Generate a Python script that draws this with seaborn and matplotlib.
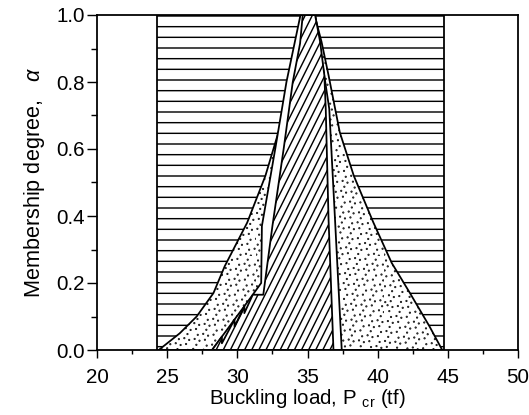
import numpy as np
import matplotlib
matplotlib.use("Agg")
import matplotlib.pyplot as plt
import matplotlib.hatch as mhatch
from matplotlib.path import Path
import seaborn as sns
from matplotlib.ticker import MultipleLocator

# Crisp interval of the buckling load (holds at every membership level)
crisp_lo, crisp_hi = 24.3, 44.7

# Outer fuzzy buckling load (stippled)
outer_alpha_l = [0.0, 0.05, 0.10, 0.17, 0.25, 0.38, 0.52, 0.66, 0.80, 1.0]
outer_x_l = [24.4, 25.9, 27.1, 28.3, 29.1, 30.7, 32.0, 33.0, 33.9, 34.7]
outer_alpha_r = [0.0, 0.07, 0.17, 0.26, 0.38, 0.52, 0.65, 0.82, 0.92, 1.0]
outer_x_r = [44.6, 43.7, 42.3, 41.0, 39.7, 38.3, 37.3, 36.5, 36.0, 35.5]

# Intermediate fuzzy buckling load (blank)
mid_alpha_l = [0.0, 0.165, 0.20, 0.37, 0.60, 0.80, 1.0]
mid_x_l = [28.2, 31.1, 31.7, 31.75, 32.7, 33.5, 34.5]
mid_alpha_r = [0.0, 0.39, 0.72, 1.0]
mid_x_r = [37.44, 36.96, 36.55, 35.55]

# Inner fuzzy buckling load (diagonal hatch), serrated lower tail
inner_alpha_l = [0.0, 0.04, 0.02, 0.091, 0.07, 0.131, 0.11, 0.165, 0.165,
                 0.37, 0.60, 0.80, 0.915, 1.0]
inner_x_l = [28.2, 28.9, 28.9, 29.8, 29.8, 30.5, 30.5, 31.1, 31.85,
             32.5, 33.3, 33.95, 34.47, 34.66]
inner_alpha_r = [0.0, 0.39, 0.72, 0.82, 0.92, 1.0]
inner_x_r = [36.85, 36.5, 36.3, 36.2, 35.9, 35.54]

x_ticks = [20, 25, 30, 35, 40, 45, 50]
y_ticks = [0.0, 0.2, 0.4, 0.6, 0.8, 1.0]


class SteepHatch(mhatch.HatchPatternBase):
    """'/' lines leaning at about 63 degrees instead of 45."""

    def __init__(self, hatch, density):
        n = int(hatch.count("/") * density)
        self.num_lines = n + (n % 2)
        self.num_vertices = 0 if n == 0 else (self.num_lines * 3 // 2 + 1) * 2

    def set_vertices_and_codes(self, vertices, codes):
        n = self.num_lines
        starts = np.arange(-n // 2, n + 1) / n
        vertices[0::2, 0] = starts
        vertices[0::2, 1] = 0.0
        vertices[1::2, 0] = starts + 0.5
        vertices[1::2, 1] = 1.0
        codes[0::2] = Path.MOVETO
        codes[1::2] = Path.LINETO


class Stipple(mhatch.HatchPatternBase):
    """'.' as an even but irregular spread of small dots."""

    radius = 0.0028

    def __init__(self, hatch, density):
        self.num_dots = int(hatch.count(".") * density * 26)
        circle = Path.unit_circle()
        self.shape_vertices = circle.vertices
        self.shape_codes = circle.codes
        self.num_vertices = self.num_dots * len(circle.vertices)

    def set_vertices_and_codes(self, vertices, codes):
        k = np.arange(self.num_dots)
        px = (0.5 + k * 0.7548776662466927) % 1.0
        py = (0.5 + k * 0.5698402909980532) % 1.0
        m = len(self.shape_vertices)
        for i in range(self.num_dots):
            vertices[i * m:(i + 1) * m] = (self.shape_vertices * self.radius
                                           + [px[i], py[i]])
            codes[i * m:(i + 1) * m] = self.shape_codes


mhatch._hatch_types = [
    Stipple if t is mhatch.SmallFilledCircles
    else SteepHatch if t is mhatch.NorthEastHatch
    else t
    for t in mhatch._hatch_types
]

DPI = 128
sns.set_style("ticks")
plt.rcParams["font.family"] = ["Liberation Sans", "DejaVu Sans"]
plt.rcParams["mathtext.fontset"] = "custom"
plt.rcParams["mathtext.rm"] = "Liberation Sans"
plt.rcParams["mathtext.it"] = "Liberation Sans:italic"
plt.rcParams["hatch.linewidth"] = 0.8
plt.rcParams["hatch.color"] = "black"

fig = plt.figure(figsize=(529 / DPI, 415 / DPI), dpi=DPI)
ax = fig.add_axes([97 / 529, 1 - 350 / 415, 421 / 529, 335 / 415])


def outline(x_l, a_l, x_r, a_r):
    xs = list(x_l) + list(reversed(x_r))
    ys = list(a_l) + list(reversed(a_r))
    return xs, ys


# crisp interval band
rx = [crisp_lo, crisp_hi, crisp_hi, crisp_lo]
ry = [0.0, 0.0, 1.0, 1.0]
ax.fill(rx, ry, facecolor="white", edgecolor="black", hatch="--",
        linewidth=1.0, zorder=1)

layers = [
    (outline(outer_x_l, outer_alpha_l, outer_x_r, outer_alpha_r), "..."),
    (outline(mid_x_l, mid_alpha_l, mid_x_r, mid_alpha_r), None),
    (outline(inner_x_l, inner_alpha_l, inner_x_r, inner_alpha_r), "///"),
]
for z, ((xs, ys), h) in enumerate(layers, start=2):
    ax.fill(xs, ys, facecolor="white", edgecolor="black", hatch=h,
            linewidth=0.0, zorder=z)
    sns.lineplot(x=xs + xs[:1], y=ys + ys[:1], sort=False, estimator=None,
                 color="black", linewidth=1.0, ax=ax, zorder=z + 0.5)

ax.set_xlim(20, 50)
ax.set_ylim(0, 1.0)
ax.set_xticks(x_ticks)
ax.set_yticks(y_ticks)
ax.xaxis.set_minor_locator(MultipleLocator(2.5))
ax.yaxis.set_minor_locator(MultipleLocator(0.1))
ax.set_xticklabels([str(v) for v in x_ticks])
ax.set_yticklabels([f"{v:.1f}" for v in y_ticks])
ax.tick_params(axis="x", which="major", direction="out", length=4.5,
               width=0.8, labelsize=11.5, pad=5.5)
ax.tick_params(axis="x", which="minor", direction="out", length=2.3,
               width=0.8)
ax.tick_params(axis="y", which="major", direction="out", length=5.5,
               width=0.8, labelsize=11.5, pad=1.5)
ax.tick_params(axis="y", which="minor", direction="out", length=3.2,
               width=0.8)
ax.tick_params(which="both", color="black", labelcolor="black")
for s in ax.spines.values():
    s.set_linewidth(1.0)
    s.set_color("black")
    s.set_zorder(10)

ax.set_xlabel(r"Buckling load, P $_{\mathrm{cr}}$ (tf)", fontsize=11.5,
              labelpad=0, color="black")
ax.set_ylabel(r"Membership degree,   $\alpha$", fontsize=12.2, labelpad=5,
              color="black")

fig.savefig("out.png", dpi=DPI, facecolor="white")
